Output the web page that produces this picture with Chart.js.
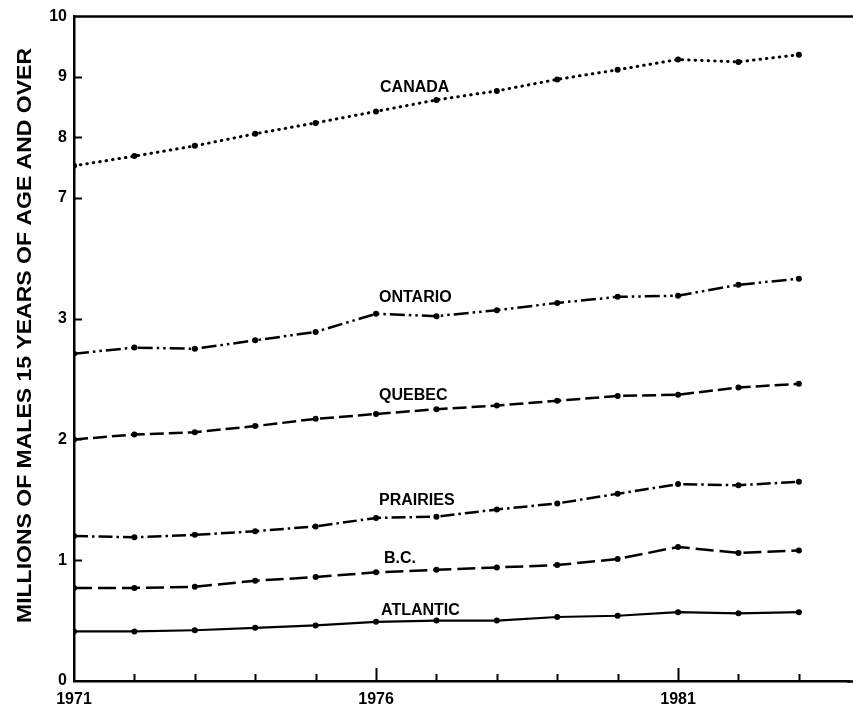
<!DOCTYPE html>
<html><head><meta charset="utf-8">
<script src="https://cdn.jsdelivr.net/npm/chart.js@4/dist/chart.umd.min.js"></script>
<style>html,body{margin:0;padding:0;background:#fff}canvas{display:block}</style>
</head><body>
<canvas id="c" width="853" height="709"></canvas>
<script>
// ---- data (millions of males 15 years of age and over) ----
const years = [1971,1972,1973,1974,1975,1976,1977,1978,1979,1980,1981,1982,1983];
const canada   = [7.53,7.69,7.86,8.06,8.24,8.43,8.62,8.77,8.96,9.12,9.29,9.25,9.37];
const ontario  = [2.71,2.76,2.75,2.82,2.89,3.04,3.02,3.07,3.13,3.18,3.19,3.28,3.33];
const quebec   = [2.00,2.04,2.06,2.11,2.17,2.21,2.25,2.28,2.32,2.36,2.37,2.43,2.46];
const prairies = [1.20,1.19,1.21,1.24,1.28,1.35,1.36,1.42,1.47,1.55,1.63,1.62,1.65];
const bc       = [0.77,0.77,0.78,0.83,0.86,0.90,0.92,0.94,0.96,1.01,1.11,1.06,1.08];
const atlantic = [0.41,0.41,0.42,0.44,0.46,0.49,0.50,0.50,0.53,0.54,0.57,0.56,0.57];
const seriesNames = ['CANADA','ONTARIO','QUEBEC','PRAIRIES','B.C.','ATLANTIC'];
const yTickValues = [0,1,2,3,7,8,9,10];
const xTickLabels = [1971,1976,1981];
const axisTitle = 'MILLIONS OF MALES 15 YEARS OF AGE AND OVER';

// broken y axis: 0..3 full scale, then 7..10 at half scale
function toAxis(v){ return v <= 5 ? v : 4 + (v - 7) / 2; }

const allSeries = [canada, ontario, quebec, prairies, bc, atlantic];
const styles = [
  {dash:[0.5,6], cap:'round', width:3},
  {dash:[15,4,2.5,4,2.5,4], cap:'butt', width:2.5},
  {dash:[14,5], cap:'butt', width:2.5},
  {dash:[14,4,2.5,4], cap:'butt', width:2.5},
  {dash:[18,6], cap:'butt', width:2.5},
  {dash:[], cap:'butt', width:2.2}
];
const labelOffsets = [{dx:4,dy:24},{dx:3,dy:16},{dx:3,dy:18},{dx:3,dy:17},{dx:8,dy:14},{dx:5,dy:11}];
const FONT = '"Liberation Sans", Arial, Helvetica, sans-serif';

const datasets = allSeries.map((s, i) => ({
  label: seriesNames[i],
  data: years.map((y, j) => ({x: y, y: toAxis(s[j])})),
  borderColor: '#000',
  backgroundColor: '#000',
  borderWidth: styles[i].width,
  borderDash: styles[i].dash,
  borderCapStyle: styles[i].cap,
  pointRadius: 3,
  pointBorderWidth: 0,
  pointBackgroundColor: '#000',
  tension: 0,
  fill: false
}));

const decor = {
  id: 'decor',
  afterDraw(chart) {
    const ctx = chart.ctx, ca = chart.chartArea;
    const xs = chart.scales.x, ys = chart.scales.y;
    ctx.save();
    ctx.strokeStyle = '#000';
    ctx.fillStyle = '#000';
    // top frame line and bottom axis extended to the right edge
    ctx.lineWidth = 2.5;
    ctx.beginPath(); ctx.moveTo(ca.left, ca.top); ctx.lineTo(chart.width, ca.top); ctx.stroke();
    ctx.beginPath(); ctx.moveTo(ca.right - 2, ca.bottom + 0.5); ctx.lineTo(chart.width, ca.bottom + 0.5); ctx.stroke();
    // inward ticks on y
    ctx.lineWidth = 2;
    yTickValues.forEach(v => {
      if (v === 0 || v === 10) return;
      const py = Math.round(ys.getPixelForValue(toAxis(v))) + 0.5;
      ctx.beginPath(); ctx.moveTo(ca.left, py); ctx.lineTo(ca.left + 8, py); ctx.stroke();
    });
    // inward ticks on x
    years.forEach(y => {
      if (y === years[0]) return;
      const px = Math.round(xs.getPixelForValue(y)) + 0.5;
      const len = xTickLabels.includes(y) ? 13 : 7;
      ctx.beginPath(); ctx.moveTo(px, ca.bottom); ctx.lineTo(px, ca.bottom - len); ctx.stroke();
    });
    // series labels
    ctx.font = 'bold 16px ' + FONT;
    ctx.textAlign = 'left';
    ctx.textBaseline = 'middle';
    allSeries.forEach((s, i) => {
      const px = xs.getPixelForValue(1976) + labelOffsets[i].dx;
      const py = ys.getPixelForValue(toAxis(s[5])) - labelOffsets[i].dy;
      ctx.fillText(seriesNames[i], px, py);
    });
    // y axis title
    ctx.font = 'bold 21px ' + FONT;
    const w = ctx.measureText(axisTitle).width;
    ctx.translate(25.5, 335.5);
    ctx.rotate(-Math.PI / 2);
    ctx.scale(575 / w, 1);
    ctx.textAlign = 'center';
    ctx.fillText(axisTitle, 0, 0);
    ctx.restore();
  }
};

new Chart(document.getElementById('c'), {
  type: 'line',
  data: { datasets },
  plugins: [decor],
  options: {
    responsive: false,
    animation: false,
    devicePixelRatio: 1,
    layout: { padding: { top: 15, right: 0, bottom: 0, left: 0 } },
    plugins: { legend: { display: false }, tooltip: { enabled: false } },
    scales: {
      x: {
        type: 'linear', min: 1971, max: 1983.83,
        afterBuildTicks: s => { s.ticks = years.map(v => ({value: v})); },
        afterFit: s => { s.height = 28; },
        grid: { display: false, drawTicks: false },
        border: { display: true, color: '#000', width: 2.5 },
        ticks: {
          autoSkip: false, maxRotation: 0, padding: 9, color: '#000',
          font: { family: FONT, size: 16, weight: 'bold' },
          callback: v => xTickLabels.includes(v) ? String(v) : ''
        }
      },
      y: {
        type: 'linear', min: 0, max: toAxis(10),
        afterBuildTicks: s => { s.ticks = yTickValues.map(v => ({value: toAxis(v)})); },
        afterFit: s => { s.width = 74; },
        grid: { display: false, drawTicks: false },
        border: { display: true, color: '#000', width: 2.5 },
        ticks: {
          padding: 7, color: '#000',
          font: { family: FONT, size: 16, weight: 'bold' },
          callback: (v, i) => String(yTickValues[i])
        }
      }
    }
  }
});
</script>
</body></html>
